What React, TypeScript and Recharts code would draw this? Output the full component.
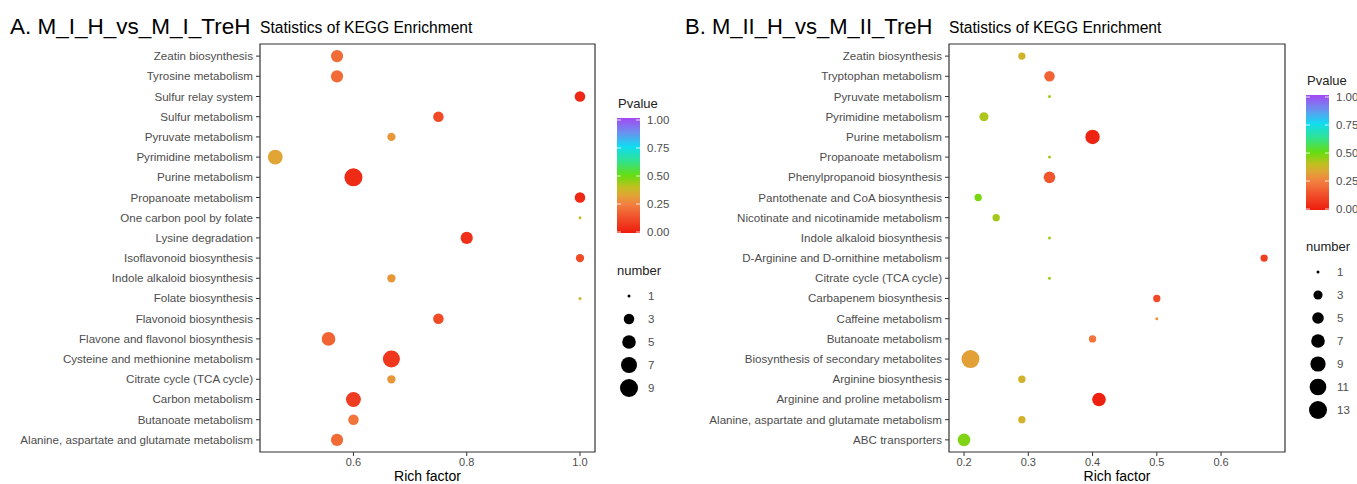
import { ReferenceArea, Scatter, ScatterChart, XAxis, YAxis } from 'recharts';

// Panel A — M_I_H vs M_I_TreH (top to bottom as shown)
const PATHWAYS_A = [
  'Zeatin biosynthesis',
  'Tyrosine metabolism',
  'Sulfur relay system',
  'Sulfur metabolism',
  'Pyruvate metabolism',
  'Pyrimidine metabolism',
  'Purine metabolism',
  'Propanoate metabolism',
  'One carbon pool by folate',
  'Lysine degradation',
  'Isoflavonoid biosynthesis',
  'Indole alkaloid biosynthesis',
  'Folate biosynthesis',
  'Flavonoid biosynthesis',
  'Flavone and flavonol biosynthesis',
  'Cysteine and methionine metabolism',
  'Citrate cycle (TCA cycle)',
  'Carbon metabolism',
  'Butanoate metabolism',
  'Alanine, aspartate and glutamate metabolism',
];
const RICH_A = [0.571, 0.571, 1.0, 0.75, 0.667, 0.462, 0.6, 1.0, 1.0, 0.8, 1.0, 0.667, 1.0, 0.75, 0.556, 0.667, 0.667, 0.6, 0.6, 0.571];
const COUNT_A = [4, 4, 3, 3, 2, 6, 9, 3, 1, 4, 2, 2, 1, 3, 5, 8, 2, 6, 3, 4];
const PVAL_A = [0.2, 0.2, 0.03, 0.12, 0.3, 0.33, 0.04, 0.03, 0.38, 0.05, 0.12, 0.3, 0.38, 0.12, 0.18, 0.07, 0.3, 0.08, 0.22, 0.2];

// Panel B — M_II_H vs M_II_TreH
const PATHWAYS_B = [
  'Zeatin biosynthesis',
  'Tryptophan metabolism',
  'Pyruvate metabolism',
  'Pyrimidine metabolism',
  'Purine metabolism',
  'Propanoate metabolism',
  'Phenylpropanoid biosynthesis',
  'Pantothenate and CoA biosynthesis',
  'Nicotinate and nicotinamide metabolism',
  'Indole alkaloid biosynthesis',
  'D-Arginine and D-ornithine metabolism',
  'Citrate cycle (TCA cycle)',
  'Carbapenem biosynthesis',
  'Caffeine metabolism',
  'Butanoate metabolism',
  'Biosynthesis of secondary metabolites',
  'Arginine biosynthesis',
  'Arginine and proline metabolism',
  'Alanine, aspartate and glutamate metabolism',
  'ABC transporters',
];
const RICH_B = [0.29, 0.333, 0.333, 0.231, 0.4, 0.333, 0.333, 0.222, 0.25, 0.333, 0.667, 0.333, 0.5, 0.5, 0.4, 0.21, 0.29, 0.41, 0.29, 0.2];
const COUNT_B = [2, 4, 1, 3, 8, 1, 5, 2, 2, 1, 2, 1, 2, 1, 2, 13, 2, 7, 2, 6];
const PVAL_B = [0.36, 0.18, 0.44, 0.42, 0.02, 0.44, 0.15, 0.48, 0.43, 0.44, 0.09, 0.44, 0.12, 0.3, 0.22, 0.32, 0.36, 0.01, 0.36, 0.47];

const X_TICKS_A = [0.6, 0.8, 1.0];
const X_TICKS_B = [0.2, 0.3, 0.4, 0.5, 0.6];
const PVALUE_TICKS = [0, 0.25, 0.5, 0.75, 1];
const SIZE_KEYS_A = [1, 3, 5, 7, 9];
const SIZE_KEYS_B = [1, 3, 5, 7, 9, 11, 13];

// rainbow-ish gradient used for Pvalue
const GRADIENT: [number, string][] = [
  [0, '#ee1c0e'],
  [0.125, '#f04c28'],
  [0.25, '#f28040'],
  [0.33, '#e0a535'],
  [0.4, '#c0c020'],
  [0.5, '#66dd10'],
  [0.625, '#30e290'],
  [0.75, '#10ddf0'],
  [0.875, '#6c90f0'],
  [1, '#a448f2'],
];

const FONT = '"Liberation Sans", Arial, Helvetica, sans-serif';
const TEXT_GREY = '#4d4d4d';
const BORDER = '#333333';
const R_MAX = 9;

function hex(c: string) {
  return [1, 3, 5].map((i) => parseInt(c.slice(i, i + 2), 16));
}

function pColor(p: number) {
  for (let i = 1; i < GRADIENT.length; i++) {
    const [p1, c1] = GRADIENT[i];
    if (p <= p1) {
      const [p0, c0] = GRADIENT[i - 1];
      const t = (p - p0) / (p1 - p0);
      const a = hex(c0);
      const b = hex(c1);
      return `rgb(${a.map((v, k) => Math.round(v + (b[k] - v) * t)).join(',')})`;
    }
  }
  return GRADIENT[GRADIENT.length - 1][1];
}

// ggplot scale_size: diameter from 1 to 6 by sqrt of the rescaled count
function radius(n: number, max: number) {
  return (R_MAX * (1 + 5 * Math.sqrt((n - 1) / (max - 1)))) / 6;
}

type Row = { name: string; x: number; y: number; n: number; p: number };

function rows(names: string[], rich: number[], count: number[], pval: number[]): Row[] {
  return names.map((name, i) => ({ name, x: rich[i], y: i, n: count[i], p: pval[i] }));
}

function Panel({
  data,
  names,
  maxCount,
  width,
  yWidth,
  domain,
  ticks,
  left,
}: {
  data: Row[];
  names: string[];
  maxCount: number;
  width: number;
  yWidth: number;
  domain: [number, number];
  ticks: number[];
  left: number;
}) {
  const yDomain: [number, number] = [-0.6, names.length - 0.4];
  return (
    <div style={{ position: 'absolute', left, top: 0 }}>
      <ScatterChart width={width} height={484} margin={{ top: 44, right: 5, bottom: 0, left: 0 }}>
        <ReferenceArea
          x1={domain[0]}
          x2={domain[1]}
          y1={yDomain[0]}
          y2={yDomain[1]}
          fill="none"
          stroke={BORDER}
          strokeWidth={1.2}
          ifOverflow="visible"
        />
        <XAxis
          type="number"
          dataKey="x"
          domain={domain}
          ticks={ticks}
          allowDataOverflow
          height={32}
          tickFormatter={(v) => Number(v).toFixed(1)}
          tick={{ fill: TEXT_GREY, fontSize: 11, fontFamily: FONT }}
          axisLine={false}
          tickLine={{ stroke: BORDER }}
          tickSize={4}
          tickMargin={2}
          label={{ value: 'Rich factor', position: 'insideBottom', offset: 3, fill: '#000', fontSize: 14, fontFamily: FONT }}
        />
        <YAxis
          type="number"
          dataKey="y"
          domain={yDomain}
          ticks={names.map((_, i) => i)}
          interval={0}
          reversed
          allowDataOverflow
          width={yWidth}
          tick={(props: any) => (
            <text
              x={props.x}
              y={props.y}
              dy={4}
              textAnchor="end"
              fill={TEXT_GREY}
              fontSize={11.6}
              fontFamily={FONT}
            >
              {names[props.payload.value]}
            </text>
          )}
          axisLine={false}
          tickLine={{ stroke: BORDER }}
          tickSize={4}
          tickMargin={3}
        />
        <Scatter
          data={data}
          isAnimationActive={false}
          shape={(props: any) => (
            <circle cx={props.cx} cy={props.cy} r={radius(props.payload.n, maxCount)} fill={pColor(props.payload.p)} />
          )}
        />
      </ScatterChart>
    </div>
  );
}

function Legends({ x, pTop, nTop, keys, maxCount, id }: { x: number; pTop: number; nTop: number; keys: number[]; maxCount: number; id: string }) {
  const barTop = pTop + 14;
  const barH = 115;
  const barW = 23;
  return (
    <g fontFamily={FONT}>
      <defs>
        <linearGradient id={id} x1="0" y1="1" x2="0" y2="0">
          {GRADIENT.map(([o, c]) => (
            <stop key={o} offset={`${o * 100}%`} stopColor={c} />
          ))}
        </linearGradient>
      </defs>
      <text x={x + 1} y={pTop + 4} fontSize={13} fill="#222">
        Pvalue
      </text>
      <rect x={x} y={barTop} width={barW} height={barH} fill={`url(#${id})`} />
      {PVALUE_TICKS.map((v) => {
        const y = barTop + 2 + (1 - v) * (barH - 3);
        return (
          <g key={v}>
            <line x1={x} x2={x + 4} y1={y} y2={y} stroke="#fff" strokeWidth={0.8} />
            <line x1={x + barW - 4} x2={x + barW} y1={y} y2={y} stroke="#fff" strokeWidth={0.8} />
            <text x={x + barW + 7} y={y + 4} fontSize={11.5} fill={TEXT_GREY}>
              {v.toFixed(2)}
            </text>
          </g>
        );
      })}
      <text x={x} y={nTop + 4} fontSize={13} fill="#222">
        number
      </text>
      {keys.map((k, i) => {
        const y = nTop + 25 + i * 23;
        return (
          <g key={k}>
            <circle cx={x + 12} cy={y} r={radius(k, maxCount)} fill="#000" />
            <text x={x + 31} y={y + 4} fontSize={11.5} fill={TEXT_GREY}>
              {k}
            </text>
          </g>
        );
      })}
    </g>
  );
}

export default function App() {
  const dataA = rows(PATHWAYS_A, RICH_A, COUNT_A, PVAL_A);
  const dataB = rows(PATHWAYS_B, RICH_B, COUNT_B, PVAL_B);
  return (
    <div
      style={{
        position: 'absolute',
        left: 0,
        top: 0,
        width: 1357,
        height: 484,
        background: '#fff',
        overflow: 'hidden',
        fontFamily: FONT,
      }}
    >
      <Panel data={dataA} names={PATHWAYS_A} maxCount={9} width={600} yWidth={260} domain={[0.435, 1.0265]} ticks={X_TICKS_A} left={0} />
      <Panel data={dataB} names={PATHWAYS_B} maxCount={13} width={610} yWidth={269} domain={[0.1766, 0.6995]} ticks={X_TICKS_B} left={680} />
      <svg width={1357} height={484} style={{ position: 'absolute', left: 0, top: 0, pointerEvents: 'none' }}>
        <g fontFamily={FONT}>
          <text x={10} y={34} fontSize={22.5} fill="#000">
            A. M_I_H_vs_M_I_TreH
          </text>
          <text x={260} y={33} fontSize={15.6} fill="#000">
            Statistics of KEGG Enrichment
          </text>
          <text x={685} y={34} fontSize={22} fill="#000">
            B. M_II_H_vs_M_II_TreH
          </text>
          <text x={949} y={33} fontSize={15.6} fill="#000">
            Statistics of KEGG Enrichment
          </text>
        </g>
        <Legends x={617} pTop={104} nTop={271} keys={SIZE_KEYS_A} maxCount={9} id="gradA" />
        <Legends x={1306} pTop={81} nTop={247} keys={SIZE_KEYS_B} maxCount={13} id="gradB" />
      </svg>
    </div>
  );
}
